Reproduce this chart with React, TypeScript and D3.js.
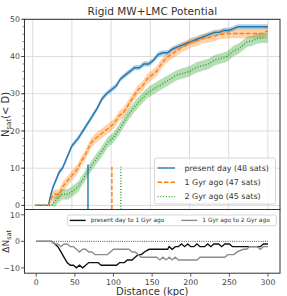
import * as d3 from 'd3';

// cumulative counts N_sat(<D)
const presentD = [3, 20, 22, 26, 30, 34, 38, 42, 46, 50, 54, 58, 64, 70, 76, 82, 88, 94, 100, 106, 112, 118, 124, 130, 136, 142, 148, 154, 160, 166, 172, 178, 184, 190, 196, 202, 208, 214, 220, 226, 232, 238, 244, 250, 256, 262, 300];
const presentN = [0, 0, 2, 5, 7, 9, 10, 12, 14, 16, 17, 18, 20, 22, 24, 26, 28.5, 30, 31, 32, 34, 35, 36, 37, 37, 38, 38, 39, 40.5, 41, 41, 42, 42.5, 43, 43.5, 44, 44.5, 45, 45.5, 46, 46.5, 46.5, 47, 47, 47.5, 48, 48];
const oneGyrD = [3, 20, 24, 28, 34, 38, 42, 46, 50, 54, 58, 62, 66, 70, 75, 80, 86, 92, 98, 104, 110, 116, 122, 128, 134, 140, 146, 152, 158, 164, 170, 176, 184, 190, 196, 202, 208, 216, 224, 232, 240, 256, 272, 294, 300];
const oneGyrN = [0, 0, 2, 3, 3, 5, 6, 7, 8, 9, 10, 12, 13, 15, 17, 18, 19, 20, 21, 22, 24, 25, 27, 29, 31, 32, 34, 35, 36, 38, 39.5, 40.5, 41.5, 42.5, 43, 43.8, 44, 44.8, 45, 45.5, 46, 46.2, 46.2, 46.2, 47];
const twoGyrD = [3, 24, 28, 32, 38, 45, 52, 58, 64, 70, 76, 83, 90, 96, 102, 109, 115, 121, 128, 136, 145, 152, 160, 168, 176, 184, 192, 200, 208, 216, 224, 232, 240, 248, 256, 262, 268, 274, 280, 286, 292, 300];
const twoGyrN = [0, 0, 1, 2, 3, 3, 4, 5, 7, 9, 11, 13, 15, 17, 18, 20, 22, 24, 26, 28, 30, 31, 32, 33, 34, 35, 35.5, 36, 37, 37.5, 38, 39, 39.5, 40, 41.5, 42, 43, 44, 44.2, 44.8, 45, 45];

// median-ish distance markers
const markerD = [70.5, 101, 112.5];
const markerN = [11, 10.4, 10.4];

const seriesLabels = ['present day (48 sats)', '1 Gyr ago (47 sats)', '2 Gyr ago (45 sats)'];
const seriesColors = ['#1f77b4', '#ff7f0e', '#2ca02c'];
const seriesDash = ['none', '4.5,2', '1,1.8'];
const seriesSpread = [0.7, 1.3, 1.4];

// differences between snapshots
const diffAD = [0, 20, 24, 28, 32, 36, 40, 44, 48, 52, 56, 60, 64, 68, 76, 80, 84, 104, 108, 114, 118, 124, 128, 132, 136, 140, 146, 170, 172, 176, 180, 184, 188, 192, 196, 200, 204, 208, 212, 218, 222, 226, 230, 236, 240, 244, 250, 254, 290, 294, 300];
const diffAV = [0, 0, -1, -2, -4, -6, -8, -9, -9, -10, -9, -10, -9, -8, -8, -8, -9, -9, -8, -8, -7, -7, -6, -5, -5, -4, -3, -3, -2, -3, -2, -2, -1, -2, -1, -2, -2, -1, -2, -2, -1, -2, -1, -1, -2, -1, -1, -2, -2, -1, -1];
const diffBD = [0, 20, 24, 28, 32, 36, 40, 44, 48, 52, 56, 60, 64, 68, 72, 76, 92, 96, 100, 120, 124, 128, 132, 136, 152, 156, 160, 164, 168, 172, 176, 180, 184, 208, 212, 244, 248, 256, 260, 268, 272, 276, 286, 290, 294, 300];
const diffBV = [0, 0, -1, -1, -2, -1, -1, -2, -2, -3, -4, -3, -3, -4, -4, -5, -5, -4, -3, -3, -4, -4, -5, -6, -6, -6, -7, -6, -7, -6, -7, -6, -7, -7, -6, -6, -5, -5, -4, -3, -3, -2, -2, -3, -2, -2];
const diffLabels = ['present day to 1 Gyr ago', '1 Gyr ago to 2 Gyr ago'];
const diffColors = ['#111111', '#8c8c8c'];

const topTicks = [0, 10, 20, 30, 40, 50];
const minorTicks = d3.range(0, 51, 2);
const xTicks = [0, 50, 100, 150, 200, 250, 300];
const bottomTicks = [-10, 0, 10];

const W = 287;
const H = 296;
const L = 24.5;
const R = 280;
const FONT = "'DejaVu Sans', sans-serif";
const fmt = (v: number) => (v < 0 ? `\u2212${Math.abs(v)}` : `${v}`);

export default function App() {
    const xTop = d3.scaleLinear().domain([-10.5, 315.5]).range([L, R]);
    const yTop = d3.scaleLinear().domain([-1.1, 50]).range([209.5, 19.3]);
    const xBot = d3.scaleLinear().domain([-15.2, 315.5]).range([L, R]);
    const yBot = d3.scaleLinear().domain([-12, 12]).range([273.2, 209.5]);

    const series = [
        { d: presentD, n: presentN },
        { d: oneGyrD, n: oneGyrN },
        { d: twoGyrD, n: twoGyrN },
    ];
    const diffs = [
        { d: diffAD, v: diffAV },
        { d: diffBD, v: diffBV },
    ];

    const line = d3
        .line<[number, number]>()
        .x((p) => xTop(p[0]))
        .y((p) => yTop(p[1]));
    // band narrows where the count is still zero
    const band = (spread: number) =>
        d3
            .area<[number, number]>()
            .x((p) => xTop(p[0]))
            .y0((p) => yTop(p[1] - (p[1] > 0 ? spread : 0.15)))
            .y1((p) => yTop(p[1] + (p[1] > 0 ? spread : 0.15)));
    const diffLine = d3
        .line<[number, number]>()
        .x((p) => xBot(p[0]))
        .y((p) => yBot(p[1]));

    const topY0 = yTop.range()[0];
    const topY1 = yTop.range()[1];
    const botY0 = yBot.range()[0];

    return (
        <svg width={W} height={H} style={{ position: 'absolute', left: 0, top: 0 }} fontFamily={FONT}>
            <rect width={W} height={H} fill="#fff" />
            <text x={(L + R) / 2} y={15} fontSize={10.5} textAnchor="middle" fill="#333">
                Rigid MW+LMC Potential
            </text>

            {/* top panel grid */}
            {xTicks.map((t) => (
                <line key={`gx${t}`} x1={xTop(t)} x2={xTop(t)} y1={topY1} y2={topY0} stroke="#dcdcdc" strokeWidth={1} />
            ))}
            {topTicks.map((t) => (
                <line key={`gy${t}`} x1={L} x2={R} y1={yTop(t)} y2={yTop(t)} stroke="#dcdcdc" strokeWidth={1} />
            ))}

            {series.map((s, i) => {
                const pts = s.d.map((d, k) => [d, s.n[k]] as [number, number]);
                return <path key={`b${i}`} d={band(seriesSpread[i])(pts) ?? ''} fill={seriesColors[i]} fillOpacity={0.35} />;
            })}
            {series.map((s, i) => {
                const pts = s.d.map((d, k) => [d, s.n[k]] as [number, number]);
                return (
                    <path
                        key={`l${i}`}
                        d={line(pts) ?? ''}
                        fill="none"
                        stroke={seriesColors[i]}
                        strokeWidth={1.4}
                        strokeDasharray={seriesDash[i]}
                    />
                );
            })}
            {markerD.map((d, i) => (
                <line
                    key={`m${i}`}
                    x1={xTop(d)}
                    x2={xTop(d)}
                    y1={topY0}
                    y2={yTop(markerN[i])}
                    stroke={seriesColors[i]}
                    strokeWidth={1.4}
                    strokeDasharray={seriesDash[i]}
                />
            ))}

            {/* top legend */}
            <rect x={154.5} y={158} width={121} height={46} rx={2} fill="#fff" fillOpacity={0.8} stroke="#cccccc" strokeWidth={0.8} />
            {seriesLabels.map((label, i) => {
                const ly = 168 + i * 14.3;
                return (
                    <g key={`lg${i}`}>
                        <line x1={157.5} x2={175} y1={ly} y2={ly} stroke={seriesColors[i]} strokeWidth={1.4} strokeDasharray={seriesDash[i]} />
                        <text x={184.5} y={ly} dy="0.35em" fontSize={7.9} fill="#333">
                            {label}
                        </text>
                    </g>
                );
            })}

            {/* top axis */}
            {minorTicks.map((t) => (
                <line key={`mt${t}`} x1={L - 2} x2={L} y1={yTop(t)} y2={yTop(t)} stroke="#333" strokeWidth={0.6} />
            ))}
            {topTicks.map((t) => (
                <g key={`yt${t}`}>
                    <line x1={L - 3.5} x2={L} y1={yTop(t)} y2={yTop(t)} stroke="#333" strokeWidth={0.8} />
                    <text x={L - 4.5} y={yTop(t)} dy="0.35em" fontSize={7.8} textAnchor="end" fill="#444">
                        {fmt(t)}
                    </text>
                </g>
            ))}
            <rect x={L} y={topY1} width={R - L} height={topY0 - topY1} fill="none" stroke="#333" strokeWidth={1} />
            <text transform={`translate(8.5, ${(topY0 + topY1) / 2}) rotate(-90)`} fontSize={10} textAnchor="middle" fill="#333">
                N<tspan fontSize={7} dy={2.5}>sat</tspan>
                <tspan dy={-2.5}>(&lt; D)</tspan>
            </text>

            {/* bottom panel */}
            <line x1={xBot(0)} x2={xBot(300)} y1={yBot(0)} y2={yBot(0)} stroke="#222" strokeWidth={0.8} strokeDasharray="1,1.2" />
            {diffs.map((s, i) => {
                const pts = s.d.map((d, k) => [d, s.v[k]] as [number, number]);
                return <path key={`d${i}`} d={diffLine(pts) ?? ''} fill="none" stroke={diffColors[i]} strokeWidth={1.4} />;
            })}
            <rect x={67.3} y={215} width={209} height={10.7} rx={1.5} fill="#fff" fillOpacity={0.8} stroke="#cccccc" strokeWidth={0.8} />
            {diffLabels.map((label, i) => {
                const hx = i === 0 ? 69.7 : 181.3;
                const ly = 220.4;
                return (
                    <g key={`dl${i}`}>
                        <line x1={hx} x2={hx + 16} y1={ly} y2={ly} stroke={diffColors[i]} strokeWidth={1.4} />
                        <text x={hx + 21} y={ly} dy="0.35em" fontSize={5.9} fill="#333">
                            {label}
                        </text>
                    </g>
                );
            })}
            {bottomTicks.map((t) => (
                <g key={`by${t}`}>
                    <line x1={L - 3.5} x2={L} y1={yBot(t)} y2={yBot(t)} stroke="#333" strokeWidth={0.8} />
                    <text x={L - 4.5} y={yBot(t)} dy="0.35em" fontSize={7.8} textAnchor="end" fill="#444">
                        {fmt(t)}
                    </text>
                </g>
            ))}
            {xTicks.map((t) => (
                <g key={`bx${t}`}>
                    <line x1={xBot(t)} x2={xBot(t)} y1={botY0} y2={botY0 + 3.5} stroke="#333" strokeWidth={0.8} />
                    <text x={xBot(t)} y={284.5} fontSize={7.8} textAnchor="middle" fill="#444">
                        {fmt(t)}
                    </text>
                </g>
            ))}
            <rect x={L} y={209.5} width={R - L} height={botY0 - 209.5} fill="none" stroke="#333" strokeWidth={1} />
            <text transform={`translate(8.5, ${(botY0 + 209.5) / 2}) rotate(-90)`} fontSize={9} textAnchor="middle" fill="#333">
                ΔN<tspan fontSize={6.5} dy={2.2}>sat</tspan>
            </text>
            <text x={(L + R) / 2} y={294.6} fontSize={10} textAnchor="middle" fill="#333">
                Distance (kpc)
            </text>
        </svg>
    );
}
